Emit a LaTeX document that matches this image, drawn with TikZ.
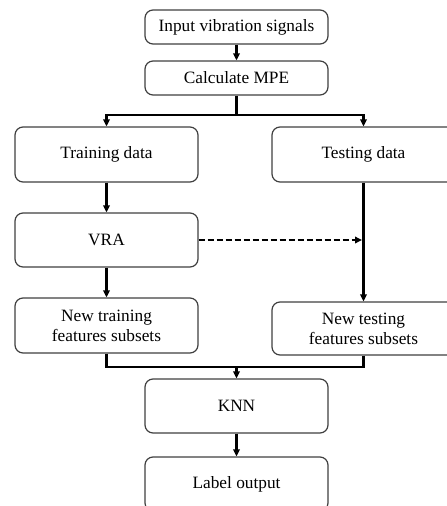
\documentclass[tikz,border=0pt]{standalone}
\usepackage{fontspec}
\setmainfont{Liberation Serif}
\usetikzlibrary{arrows.meta}
\tikzset{
  box/.style={draw=black!75, line width=1.2pt, rounded corners=8pt, fill=white,
    minimum width=183pt, inner sep=0pt, align=center,
    font=\fontsize{17.3}{20}\selectfont},
  line/.style={draw=black, line width=2.3pt},
  arr/.style={line, -{Triangle[length=7pt,width=6.5pt]}},
  dsh/.style={arr, dash pattern=on 6pt off 3pt}
}
\begin{document}
\begin{tikzpicture}[x=1pt,y=1pt]
\useasboundingbox (0,0) rectangle (447,-506);
\clip (0,0) rectangle (447,-506);
\node[box, minimum height=34pt] (in) at (236.5,-27) {Input vibration signals};
\node[box, minimum height=34pt] (mpe) at (236.5,-78) {Calculate MPE};
\node[box, minimum height=55pt] (train) at (106.5,-154.5) {Training data};
\node[box, minimum height=55pt] (test) at (363.5,-154.5) {Testing data};
\node[box, minimum height=54pt] (vra) at (106.5,-240) {VRA};
\node[box, minimum height=55pt] (ntrain) at (106.5,-325.5) {New training\\features subsets};
\node[box, minimum height=53pt] (ntest) at (363.5,-328.5) {New testing\\features subsets};
\node[box, minimum height=54pt] (knn) at (236.5,-406) {KNN};
\node[box, minimum height=54pt] (lab) at (236.5,-484) {Label output};
\coordinate (sp) at (236.5,-115);
\coordinate (mg) at (236.5,-367);
\draw[arr] (in) -- (mpe);
\draw[line] (mpe.south) -- (sp);
\draw[arr] (sp) -| (train.north);
\draw[arr] (sp) -| (test.north);
\draw[arr] (train) -- (vra);
\draw[arr] (vra) -- (ntrain);
\draw[arr] (test) -- (ntest);
\draw[dsh, shorten >=1.5pt] (vra.east) -- (vra.east -| test.south);
\draw[line] (ntrain.south) |- (mg);
\draw[line] (ntest.south) |- (mg);
\draw[arr] (mg) -- (knn);
\draw[arr] (knn) -- (lab);
\end{tikzpicture}
\end{document}
